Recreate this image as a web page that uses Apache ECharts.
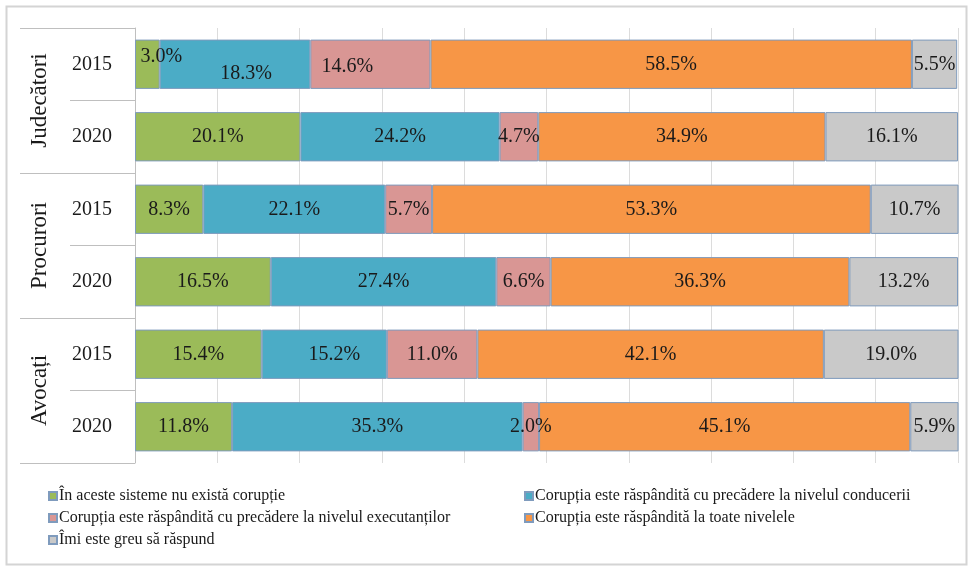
<!DOCTYPE html>
<html>
<head>
<meta charset="utf-8">
<script src="https://cdn.jsdelivr.net/npm/echarts@6/dist/echarts.min.js"></script>
<style>
  html, body { margin: 0; padding: 0; background: #fff; }
  #chart { width: 970px; height: 568px; }
</style>
</head>
<body>
<div id="chart"></div>
<script>
// categories
var years = ['2015', '2020', '2015', '2020', '2015', '2020'];
var groups = ['Judecători', 'Procurori', 'Avocați'];

// series names
var names = [
    'În aceste sisteme nu există corupție',
    'Corupția este răspândită cu precădere la nivelul conducerii',
    'Corupția este răspândită cu precădere la nivelul executanților',
    'Corupția este răspândită la toate nivelele',
    'Îmi este greu să răspund'
];

// values (%), rows: Jud 2015, Jud 2020, Proc 2015, Proc 2020, Av 2015, Av 2020
var nuExista   = [3.0, 20.1, 8.3, 16.5, 15.4, 11.8];
var conducere  = [18.3, 24.2, 22.1, 27.4, 15.2, 35.3];
var executanti = [14.6, 4.7, 5.7, 6.6, 11.0, 2.0];
var toate      = [58.5, 34.9, 53.3, 36.3, 42.1, 45.1];
var greu       = [5.5, 16.1, 10.7, 13.2, 19.0, 5.9];

var colors = ['#9bbb59', '#4bacc6', '#d99694', '#f79646', '#c9c9c9'];
var font = '"Liberation Serif", "DejaVu Serif", serif';

function mkSeries(i, values) {
    return {
        name: names[i],
        type: 'bar',
        stack: 'total',
        barCategoryGap: '32%',
        itemStyle: { color: colors[i], borderColor: '#7f9bbd', borderWidth: 1 },
        label: {
            show: true,
            position: 'inside',
            fontFamily: font,
            fontSize: 20,
            color: '#1a1a1a',
            formatter: function (p) { return p.value.toFixed(1) + '%'; }
        },
        data: values.map(function (v) { return { value: v }; })
    };
}

var series = [
    mkSeries(0, nuExista),
    mkSeries(1, conducere),
    mkSeries(2, executanti),
    mkSeries(3, toate),
    mkSeries(4, greu)
];
// some labels are shifted in the original
series[0].data[0].label = { offset: [14, -8] };
series[1].data[0].label = { offset: [11, 9] };
series[2].data[0].label = { offset: [-23, 2] };
series[1].data[4].label = { offset: [10, 0] };

var option = {
    backgroundColor: '#fff',
    animation: false,
    graphic: [{
        type: 'rect',
        left: 4, top: 4,
        shape: { width: 960, height: 558 },
        style: { fill: 'none', stroke: '#d4d4d4', lineWidth: 2 }
    }],
    grid: { left: 135, right: 12, top: 28, bottom: 105 },
    xAxis: {
        type: 'value',
        min: 0, max: 100, interval: 10,
        axisLabel: { show: false },
        axisLine: { show: false },
        axisTick: { show: false },
        splitLine: { lineStyle: { color: '#dcdcdc', width: 1 } }
    },
    yAxis: [{
        type: 'category',
        inverse: true,
        data: years,
        axisLine: { show: true, onZero: false, lineStyle: { color: '#bfbfbf' } },
        axisTick: { show: true, length: 65, lineStyle: { color: '#bfbfbf' } },
        axisLabel: { fontFamily: font, fontSize: 20, color: '#1a1a1a', margin: 23 }
    }, {
        type: 'category',
        inverse: true,
        position: 'left',
        data: groups,
        axisLine: { show: false, onZero: false },
        axisTick: { show: true, length: 115, lineStyle: { color: '#bfbfbf' } },
        axisLabel: { fontFamily: font, fontSize: 23, color: '#1a1a1a', rotate: 90, margin: 84 }
    }],
    legend: [{
        left: 43, top: 483,
        orient: 'vertical',
        icon: 'rect', itemWidth: 8, itemHeight: 8, itemGap: 6,
        textStyle: { fontFamily: font, fontSize: 16, color: '#1a1a1a', padding: [0, 0, 0, -3] },
        data: [names[0], names[2], names[4]]
    }, {
        left: 519, top: 483,
        orient: 'vertical',
        icon: 'rect', itemWidth: 8, itemHeight: 8, itemGap: 6,
        textStyle: { fontFamily: font, fontSize: 16, color: '#1a1a1a', padding: [0, 0, 0, -3] },
        data: [names[1], names[3]]
    }],
    series: series
};

var myChart = echarts.init(document.getElementById('chart'));
myChart.setOption(option);
</script>
</body>
</html>
